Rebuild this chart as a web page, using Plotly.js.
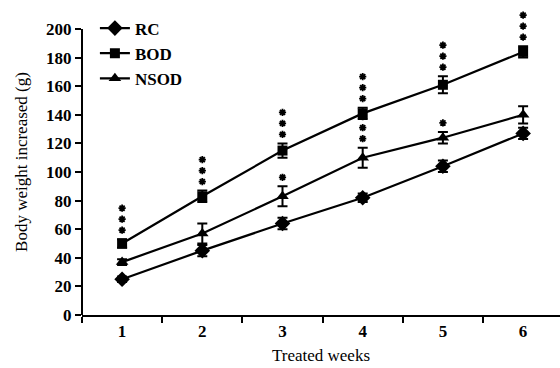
<!DOCTYPE html>
<html>
<head>
<meta charset="utf-8">
<script src="https://cdn.plot.ly/plotly-3.0.1.min.js"></script>
<style>html,body{margin:0;padding:0;background:#fff;}#chart{width:560px;height:368px;}</style>
</head>
<body>
<div id="chart"></div>
<script>
var weeks = [1, 2, 3, 4, 5, 6];
var rcValues = [25, 45, 64, 82, 104, 127];
var rcErr = [2, 4, 4, 3, 4, 4];
var bodValues = [50, 83, 115, 141, 161, 184];
var bodErr = [3, 4, 5, 4, 6, 4];
var nsodValues = [37, 57, 83, 110, 124, 140];
var nsodErr = [2, 7, 7, 7, 4, 6];
var bodStars = [3, 3, 3, 3, 3, 3];
var nsodStars = [0, 0, 1, 3, 1, 0];
var yTicks = [0, 20, 40, 60, 80, 100, 120, 140, 160, 180, 200];
var xMinorTicks = [0.5, 1.5, 2.5, 3.5, 4.5, 5.5];

var serif = 'Liberation Serif, Times New Roman, serif';
var yAxisMax = 200;
var yRange = [0, 214];
var marginTop = 9, marginBottom = 53;
var plotHeightPx = 368 - marginTop - marginBottom;
var unitsPerPx = (yRange[1] - yRange[0]) / plotHeightPx;

function series(name, y, err, symbol, size) {
  return {
    type: 'scatter', mode: 'lines+markers', name: name,
    x: weeks, y: y,
    line: {color: '#000', width: 2.2},
    marker: {symbol: symbol, size: size, color: '#000'},
    error_y: {type: 'data', array: err, visible: true, color: '#000', thickness: 2, width: 5},
    cliponaxis: false
  };
}

// significance asterisks stacked above the error bars (pixel offsets converted to data units)
function starTrace(values, errs, counts) {
  var xs = [], ys = [];
  for (var i = 0; i < weeks.length; i++) {
    for (var k = 0; k < counts[i]; k++) {
      xs.push(weeks[i]);
      ys.push(values[i] + errs[i] + (9 + k * 11) * unitsPerPx);
    }
  }
  return {
    type: 'scatter', mode: 'markers', x: xs, y: ys, showlegend: false, hoverinfo: 'skip',
    marker: {symbol: 'asterisk-open', size: 6, color: '#000', line: {color: '#000', width: 1.8}},
    cliponaxis: false
  };
}

var data = [
  series('RC', rcValues, rcErr, 'diamond', 12),
  series('BOD', bodValues, bodErr, 'square', 10),
  series('NSOD', nsodValues, nsodErr, 'triangle-up', 11),
  starTrace(bodValues, bodErr, bodStars),
  starTrace(nsodValues, nsodErr, nsodStars)
];

var layout = {
  width: 560, height: 368,
  margin: {l: 82, r: 0, t: marginTop, b: marginBottom},
  paper_bgcolor: '#fff', plot_bgcolor: '#fff',
  font: {family: serif, color: '#000'},
  showlegend: true,
  legend: {
    x: 0.027, y: 0.995, xanchor: 'left', yanchor: 'top',
    bgcolor: 'rgba(0,0,0,0)', tracegroupgap: 0,
    font: {family: serif, size: 17, color: '#000', weight: 'bold'},
    itemwidth: 30
  },
  xaxis: {
    range: [0.5, 6.46], showgrid: false, zeroline: false,
    showline: true, linecolor: '#000', linewidth: 2,
    tickvals: weeks, ticktext: weeks.map(String), ticks: '', ticklen: 0,
    tickfont: {family: serif, size: 17, color: '#000', weight: 'bold'},
    minor: {tickvals: xMinorTicks, ticks: 'outside', ticklen: 6, tickwidth: 2, tickcolor: '#000'},
    title: {text: 'Treated weeks', font: {family: serif, size: 17, color: '#000'}, standoff: 9}
  },
  yaxis: {
    range: yRange, showgrid: false, zeroline: false,
    showline: false,
    tickvals: yTicks, ticks: 'outside', ticklen: 6, tickwidth: 2, tickcolor: '#000',
    tickfont: {family: serif, size: 17, color: '#000', weight: 'bold'},
    title: {text: 'Body weight increased (g)', font: {family: serif, size: 17, color: '#000'}, standoff: 14}
  },
  shapes: [{
    type: 'line', xref: 'paper', yref: 'y', x0: 0, x1: 0, y0: 0, y1: yAxisMax,
    line: {color: '#000', width: 2}, layer: 'above'
  }]
};

Plotly.newPlot('chart', data, layout, {displayModeBar: false, staticPlot: true});
</script>
</body>
</html>
